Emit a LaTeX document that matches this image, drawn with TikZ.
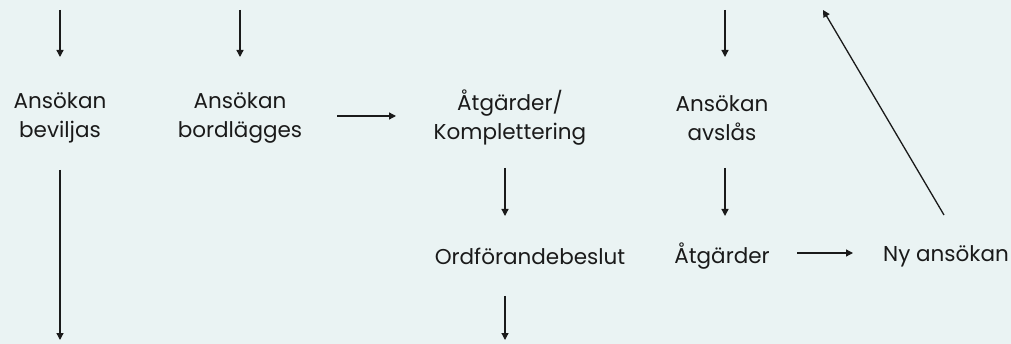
\documentclass[tikz,border=0pt]{standalone}
\usepackage{fontspec}
\setmainfont{Poppins}
\usetikzlibrary{arrows.meta}
\definecolor{bgc}{HTML}{EAF3F3}
\definecolor{txt}{HTML}{1A1A1A}
\begin{document}
\begin{tikzpicture}[x=1pt,y=-1pt,
  lbl/.style={font=\fontsize{21.5}{29}\selectfont, align=center, text=txt, inner sep=0pt},
  arr/.style={-{Triangle[length=7pt,width=7pt]}, line width=1.3pt, draw=txt}]
\fill[bgc] (0,0) rectangle (1011,344);
\useasboundingbox (0,0) rectangle (1011,344);
% free arrow ends
\coordinate (t1) at (60,10);
\coordinate (t1e) at (60,57);
\coordinate (t2) at (240,10);
\coordinate (t2e) at (240,57);
\coordinate (t4) at (725,10);
\coordinate (t4e) at (725,57);
\coordinate (b1s) at (60,170);
\coordinate (b1) at (60,340);
\coordinate (b3s) at (505,296);
\coordinate (b3) at (505,340);
\coordinate (dtop) at (823,10);
% nodes
\node[lbl] (bev) at (60,118) {Ansökan\\beviljas};
\node[lbl] (bord) at (240,118) {Ansökan\\bordlägges};
\node[lbl] (atk) at (510,118) {Åtgärder/\\Komplettering};
\node[lbl] (avs) at (722,118) {Ansökan\\avslås};
\node[lbl] (ord) at (530,256) {Ordförandebeslut};
\node[lbl] (atg) at (722,256) {Åtgärder};
\node[lbl] (ny) at (946,256) {Ny ansökan};
% arrows
\draw[arr] (t1) -- (t1e);
\draw[arr] (t2) -- (t2e);
\draw[arr] (t4) -- (t4e);
\draw[arr] (b1s) -- (b1);
\draw[arr] (bord.east |- 0,116) ++(35,0) coordinate (h1s) -- (396,116) coordinate (h1e);
\draw[arr] (505,168) -- (505,216);
\draw[arr] (b3s) -- (b3);
\draw[arr] (725,168) -- (725,216);
\draw[arr] (797,253) -- (853,253);
\draw[arr] (944,215) -- (dtop);
\end{tikzpicture}
\end{document}
